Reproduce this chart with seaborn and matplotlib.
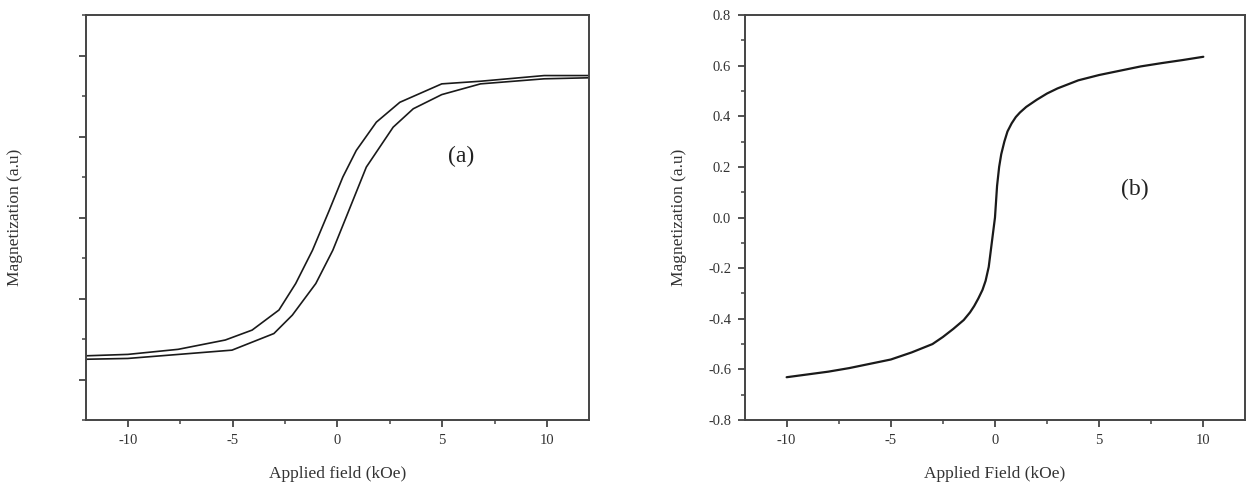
import numpy as np
import pandas as pd
import matplotlib
matplotlib.use("Agg")
import matplotlib.pyplot as plt
from matplotlib.ticker import MultipleLocator
import seaborn as sns

# Panel (a): two branches of the hysteresis loop
field_a_left = [-12, -10, -7.6, -5.35, -4.07, -2.79, -1.99, -1.19, -0.39, 0.26, 0.9, 1.86, 2.98, 4.98, 6.83, 9.87, 12]
mag_a_left = [-0.683, -0.676, -0.651, -0.605, -0.556, -0.457, -0.326, -0.162, 0.035, 0.20, 0.331, 0.471, 0.569, 0.660, 0.673, 0.701, 0.701]

field_a_right = [-12, -10, -5.03, -3.03, -2.15, -1.03, -0.22, 0.42, 1.38, 2.66, 3.62, 4.98, 6.83, 9.87, 12]
mag_a_right = [-0.700, -0.696, -0.655, -0.573, -0.482, -0.326, -0.162, 0.002, 0.249, 0.446, 0.537, 0.607, 0.660, 0.685, 0.690]

# Panel (b): magnetization curve
field_b = [-10, -9, -8, -7, -6, -5, -4, -3, -2.5, -2, -1.5, -1.2, -1.0, -0.8, -0.6, -0.45, -0.3, -0.2, -0.1, 0,
           0.1, 0.2, 0.3, 0.45, 0.6, 0.8, 1.0, 1.2, 1.5, 2.0, 2.5, 3, 4, 5, 6, 7, 8, 9, 10]
mag_b = [-0.631, -0.620, -0.609, -0.595, -0.578, -0.561, -0.533, -0.500, -0.472, -0.440, -0.405, -0.375, -0.350,
         -0.320, -0.286, -0.250, -0.195, -0.130, -0.065, 0.0,
         0.125, 0.200, 0.250, 0.300, 0.340, 0.372, 0.397, 0.415, 0.437, 0.465, 0.490, 0.510, 0.542, 0.563,
         0.580, 0.597, 0.610, 0.622, 0.635]

x_ticks = [-10, -5, 0, 5, 10]
x_labels = ['-10', '-5', '0', '5', '10']
b_yticks = [-0.8, -0.6, -0.4, -0.2, 0.0, 0.2, 0.4, 0.6, 0.8]
b_ylabels = ['-0.8', '-0.6', '-0.4', '-0.2', '0.0', '0.2', '0.4', '0.6', '0.8']

sns.set_style("ticks")
plt.rcParams['font.family'] = ['Liberation Serif', 'DejaVu Serif']

fig = plt.figure(figsize=(12.51, 4.86), dpi=100)
ax1 = fig.add_axes([0.0687, 0.1358, 0.402, 0.8333])
ax2 = fig.add_axes([0.5955, 0.1358, 0.3997, 0.8333])

line_col = '#1a1a1a'
spine_col = '#444444'
text_col = '#333333'

df_l = pd.DataFrame({'field': field_a_left, 'mag': mag_a_left})
df_r = pd.DataFrame({'field': field_a_right, 'mag': mag_a_right})
sns.lineplot(data=df_l, x='field', y='mag', ax=ax1, color=line_col, lw=1.2, sort=False)
sns.lineplot(data=df_r, x='field', y='mag', ax=ax1, color=line_col, lw=1.2, sort=False)

df_b = pd.DataFrame({'field': field_b, 'mag': mag_b})
sns.lineplot(data=df_b, x='field', y='mag', ax=ax2, color=line_col, lw=1.6, sort=False)

ax1.set_ylim(-1, 1)
ax2.set_ylim(-0.8, 0.8)
for ax in (ax1, ax2):
    ax.set_xlim(-12, 12)
    ax.set_xticks(x_ticks)
    ax.set_xticklabels(x_labels)
    ax.xaxis.set_minor_locator(MultipleLocator(2.5))
    for s in ax.spines.values():
        s.set_color(spine_col)
        s.set_linewidth(1.4)
    ax.tick_params(which='major', length=5, width=1.3, color=spine_col, labelsize=10.5,
                   labelcolor=text_col, pad=5)
    ax.tick_params(which='minor', length=3, width=1.1, color=spine_col)
    ax.tick_params(top=False, right=False)

ax1.yaxis.set_major_locator(MultipleLocator(0.4))
ax1.yaxis.set_minor_locator(MultipleLocator(0.2))
ax1.set_yticklabels([])

ax2.set_yticks(b_yticks)
ax2.set_yticklabels(b_ylabels)
ax2.yaxis.set_minor_locator(MultipleLocator(0.1))

ax1.set_xlabel('Applied field (kOe)', fontsize=12.5, color=text_col, labelpad=14)
ax1.set_ylabel('Magnetization (a.u)', fontsize=12.5, color=text_col)
ax1.yaxis.set_label_coords(-0.125, 0.5)
ax2.set_xlabel('Applied Field (kOe)', fontsize=12.5, color=text_col, labelpad=14)
ax2.set_ylabel('Magnetization (a.u)', fontsize=12.5, color=text_col, labelpad=15)

ax1.text(5.9, 0.30, '(a)', fontsize=17, color='#222222', ha='center', va='center')
ax2.text(6.7, 0.11, '(b)', fontsize=17, color='#222222', ha='center', va='center')

fig.savefig('out.png', dpi=100)
